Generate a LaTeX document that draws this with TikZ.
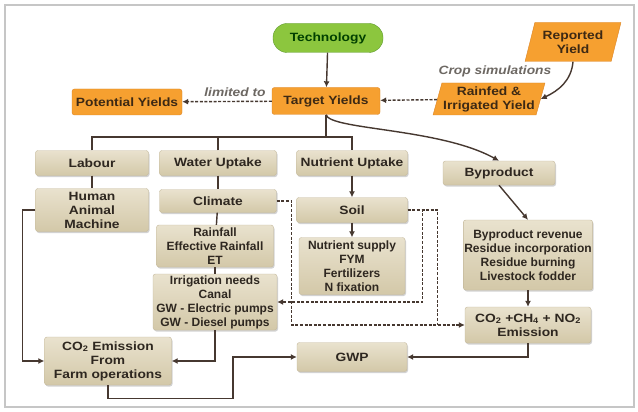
\documentclass[tikz,border=0pt]{standalone}
\usepackage{fontspec}
\setmainfont{Liberation Sans}[FakeStretch=1.15]
\newfontfamily\plainsans{Liberation Sans}
\usetikzlibrary{arrows.meta, positioning, shapes.geometric, shadows}
\definecolor{mOrange}{HTML}{F6A030}
\definecolor{mOrangeDark}{HTML}{DC8526}
\definecolor{mGreen}{HTML}{8CC63E}
\definecolor{mGreenDark}{HTML}{5E9A2E}
\definecolor{mTanTop}{HTML}{E9E2CE}
\definecolor{mTanBot}{HTML}{D3C8A8}
\definecolor{mTanDark}{HTML}{C4B99C}
\definecolor{mInk}{HTML}{2E2720}
\definecolor{mLine}{HTML}{463830}

\begin{document}
\begin{tikzpicture}[x=1pt, y=-1pt,
    font=\bfseries\fontsize{12}{14}\selectfont, text=mInk,
    tanbox/.style={draw=mTanDark, top color=mTanTop, bottom color=mTanBot, rounded corners=2.5pt,
      align=center, inner sep=1pt,
      drop shadow={opacity=0.35, shadow xshift=1pt, shadow yshift=-1.5pt}},
    densebox/.style={tanbox, font=\plainsans\bfseries\fontsize{12}{14}\selectfont},
    orangebox/.style={draw=mOrangeDark, fill=mOrange, rounded corners=2.5pt, align=center, inner sep=1pt,
      text=black!60!brown!80!black},
    slantbox/.style={orangebox, rounded corners=0pt, trapezium, trapezium left angle=72,
      trapezium right angle=108, trapezium stretches=true},
    techbox/.style={draw=mGreenDark, fill=mGreen, rounded corners=14pt, align=center,
      text=green!25!black},
    note/.style={font=\bfseries\itshape\fontsize{12}{14}\selectfont, text=mInk!70},
    tline/.style={draw=mLine, line width=1.4pt},
    link/.style={tline, -{Latex[length=6pt,width=6pt]}},
    dline/.style={tline, dash pattern=on 3pt off 1.6pt},
    dlink/.style={link, dash pattern=on 3pt off 1.6pt}]
  \fill[white] (0,0) rectangle (638,412);
  \useasboundingbox (0,0) rectangle (638,412);
  \draw[gray!45, line width=1.5pt] (5,5) rectangle (634,407);

  % yields row
  \node[techbox, minimum width=110, minimum height=29] (tech) at (328,38) {Technology};
  \node[orangebox, minimum width=108, minimum height=27] (target) at (326,101) {Target Yields};
  \node[orangebox, minimum width=110, minimum height=26] (potential) at (127,102) {Potential Yields};
  \node[slantbox, minimum width=96, minimum height=39] (reported) at (573,42) {Reported\\Yield};
  \node[slantbox, minimum width=112, minimum height=32] (rainfed) at (489,99) {Rainfed \&\\Irrigated Yield};
  \node[note] (limit) at (235,92) {limited to};
  \node[note] (cropsim) at (495,71) {Crop simulations};

  % inputs
  \node[tanbox, minimum width=113, minimum height=25] (labour) at (92,163) {Labour};
  \node[tanbox, minimum width=117, minimum height=25] (water) at (218,163) {Water Uptake};
  \node[tanbox, minimum width=111, minimum height=25] (nutrient) at (352,163) {Nutrient Uptake};
  \node[tanbox, minimum width=112, minimum height=24] (byprod) at (499,173) {Byproduct};
  \node[tanbox, minimum width=113, minimum height=43] (human) at (92,210) {Human\\Animal\\Machine};
  \node[tanbox, minimum width=117, minimum height=23] (climate) at (218,201) {Climate};
  \node[tanbox, minimum width=111, minimum height=25] (soil) at (352,210) {Soil};
  \node[densebox, minimum width=117, minimum height=42] (rain) at (215,246) {Rainfall\\Effective Rainfall\\ET};
  \node[densebox, minimum width=106, minimum height=57] (nsupply) at (352,266) {Nutrient supply\\FYM\\Fertilizers\\N fixation};
  \node[densebox, minimum width=124, minimum height=56] (irrig) at (215,302) {Irrigation needs\\Canal\\GW - Electric pumps\\GW - Diesel pumps};
  \node[densebox, minimum width=127, minimum height=70] (byrev) at (528,255) {Byproduct revenue\\Residue incorporation\\Residue burning\\Livestock fodder};

  % emissions
  \node[tanbox, minimum width=126, minimum height=36] (emis) at (528,325) {CO\textsubscript{2} +CH\textsubscript{4} + NO\textsubscript{2}\\Emission};
  \node[tanbox, minimum width=110, minimum height=29] (gwp) at (352,357) {GWP};
  \node[tanbox, minimum width=127, minimum height=48] (farm) at (108,361) {CO\textsubscript{2} Emission\\From\\Farm operations};

  % top links
  \draw[link] (tech) -- (target);
  \draw[dlink] (target) -- (potential);
  \draw[dlink] (rainfed) -- (target);
  \draw[link] (reported.south) to[out=-95, in=25] (rainfed.east);
  \draw[link] (target.south) .. controls (330,130) and (440,128) .. (byprod.north);

  % tree under target
  \coordinate (bar) at (0,137);
  \draw[tline] (target.south) -- (target.south |- bar);
  \draw[tline] (labour.north) -- (labour.north |- bar) -- (nutrient.north |- bar) -- (nutrient.north);
  \draw[tline] (water.north) -- (water.north |- bar);

  \draw[tline] (labour) -- (human);
  \draw[tline] (water) -- (climate);
  \draw[tline] (climate) -- (rain);
  \draw[tline] (rain) -- (irrig);
  \draw[link] (nutrient) -- (soil);
  \draw[link] (soil) -- (nsupply);
  \draw[link] (byprod.south) -- (byrev.north);
  \draw[link] (byrev) -- (emis);

  % dashed feeds
  \draw[dlink] (climate.east) -- ++(15,0) |- (emis.west);
  \draw[dlink] (soil.east) -- ++(15,0) |- (irrig.east);
  \draw[dline] (soil.east) -- ++(30,0) coordinate (sj) -- (sj |- emis.west);

  % emission links
  \draw[link] (human.west) -- ++(-13,0) |- (farm.west);
  \draw[link] (irrig.south) |- (farm.east);
  \draw[link] (farm.south) -- ++(0,13) -- ++(125,0) |- (gwp.west);
  \draw[link] (emis.south) |- (gwp.east);
\end{tikzpicture}
\end{document}
